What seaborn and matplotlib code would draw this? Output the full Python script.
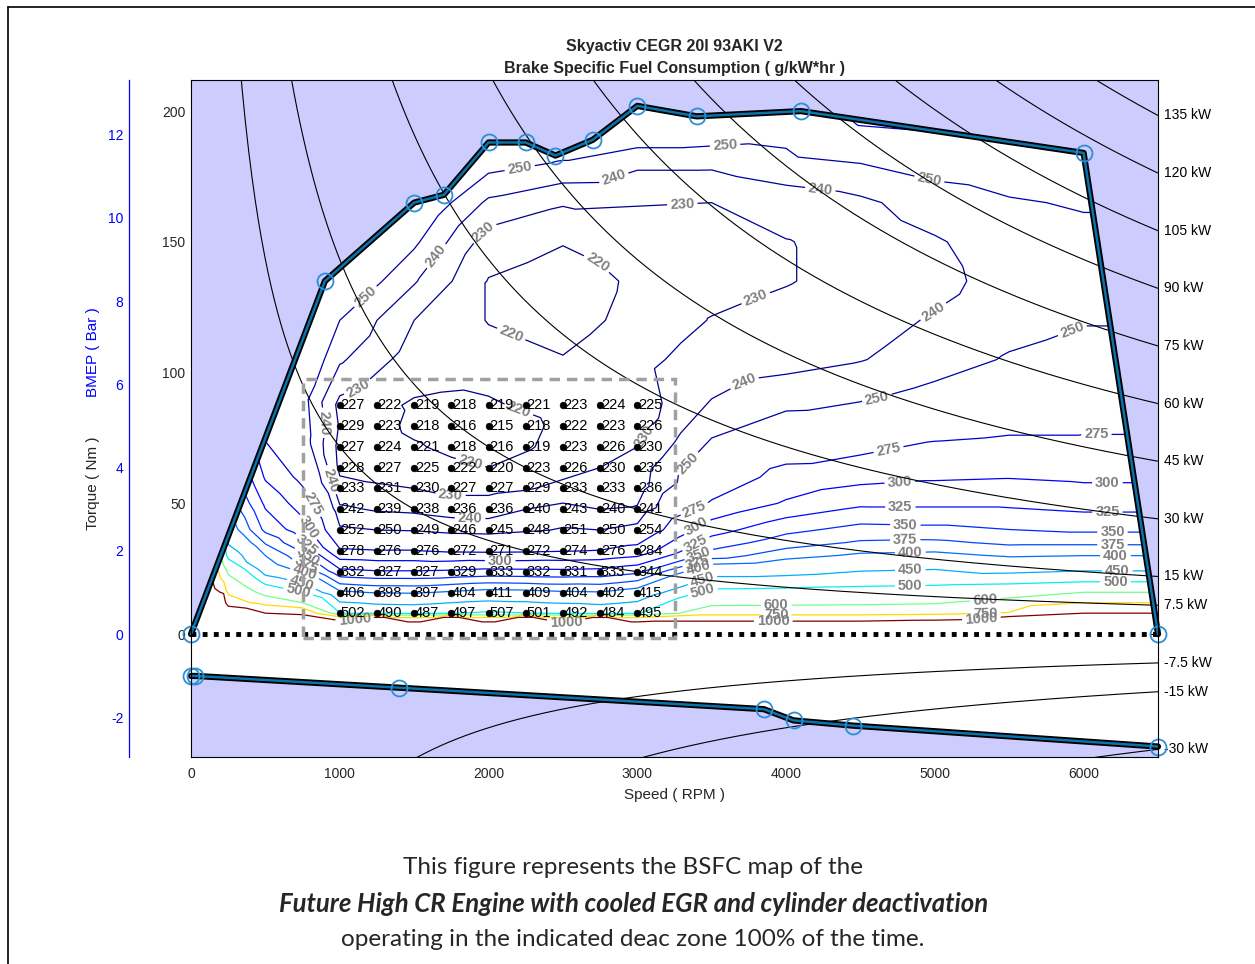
import numpy as np
import matplotlib
matplotlib.use('Agg')
import matplotlib.pyplot as plt
import matplotlib.tri as mtri
from matplotlib.colors import Normalize
from matplotlib.patches import Rectangle
from matplotlib.lines import Line2D
import seaborn as sns

# full load (WOT) torque curve
WOT_RPM = [0, 900, 1500, 1700, 2000, 2250, 2450, 2700, 3000, 3400, 4100, 6000, 6500]
WOT_TQ = [0, 135, 165, 168, 188, 188, 183, 189, 202, 198, 200, 184, 0]

# motoring torque curve
MOTOR_RPM = [0, 30, 1400, 3850, 4050, 4450, 6500]
MOTOR_TQ = [-16, -16, -20.5, -28.7, -33, -35, -43]

# base BSFC map (g/kWh), one list per speed column, ordered like MAP_TQ
# None = replaced by the deac zone measurements
MAP_RPM = [0, 250, 500, 750, 1000, 1500, 2000, 2500, 3000,
           3500, 4000, 4500, 5000, 5500, 6000, 6500]
MAP_TQ = [0, 4, 8, 12, 16, 20, 25, 30, 35, 40, 50, 60, 75, 90,
          105, 120, 135, 150, 165, 180, 195, 210]
N = None
BSFC_BASE = [
    [9000, 6000, 4000, 3000, 2000, 1500, 1200, 1000, 900, 800, 700, 620, 560, 520, 500, 490, 480, 480, 480, 480, 480, 480],
    [5000, 2500, 1300, 850, 720, 650, 560, 480, 445, 420, 390, 370, 350, 340, 335, 330, 330, 330, 330, 330, 330, 330],
    [4000, 2000, 1000, 680, 560, 480, 420, 400, 372, 343, 320, 297, 273, 262, 270, 285, 295, 305, 315, 325, 335, 345],
    [3000, 1600, 900, 600, 500, 445, 390, 358, 327, 311, 288, 268, 256, 254, 262, 275, 285, 295, 305, 315, 325, 335],
    [3000, 1200, N, N, N, N, N, N, N, N, N, N, N, N, 241.5, 250, 262, 275, 285, 295, 305, 315],
    [3000, 1100, N, N, N, N, N, N, N, N, N, N, N, N, 225, 230, 241, 252, 262, 275, 285, 295],
    [3000, 1100, N, N, N, N, N, N, N, N, N, N, N, N, 224, 219.5, 219.5, 225, 238, 254, 265, 275],
    [3000, 1100, N, N, N, N, N, N, N, N, N, N, N, N, 220.5, 216, 215.5, 220.5, 231, 249, 262, 272],
    [3000, 1100, N, N, N, N, N, N, N, N, N, N, N, N, 227, 223, 221.5, 225, 230.5, 242, 262, 272],
    [3000, 1100, 680, 570, 515, 470, 420, 362, 336, 314, 277, 262, 250, 240, 235, 230.5, 226, 225, 230, 242, 260, 272],
    [3000, 1100, 680, 575, 520, 470, 428, 390, 363, 343, 303, 282, 261, 245, 237, 233, 229.5, 229.5, 236, 245, 258, 270],
    [3000, 1100, 680, 580, 525, 480, 443, 405, 378, 358, 320, 292, 262, 249, 239.5, 236, 233, 234, 238, 250, 276, 290],
    [3000, 1150, 700, 590, 530, 485, 448, 408, 380, 356, 320, 297, 273, 254, 245, 241, 237, 239, 245, 254, 280, 295],
    [3000, 1500, 760, 650, 540, 490, 430, 397, 370, 350, 320, 299, 276, 262, 251, 246, 244, 245, 249, 256, 265, 275],
    [3000, 1500, 1000, 750, 600, 500, 440, 400, 370, 345, 315, 296, 276, 265, 256, 249, 246, 247, 251, 256, 265, 275],
    [3000, 1500, 1000, 750, 600, 500, 440, 400, 370, 345, 315, 296, 276, 265, 256, 249, 246, 247, 251, 256, 265, 275],
]

# deac zone measured BSFC
DEAC_RPM = [1000, 1250, 1500, 1750, 2000, 2250, 2500, 2750, 3000]
DEAC_TQ = [87.5, 79.6, 71.6, 63.7, 55.7, 47.7, 39.8, 31.8, 23.9, 15.9, 8.0]
DEAC_BSFC = [
    [227, 222, 219, 218, 219, 221, 223, 224, 225],
    [229, 223, 218, 216, 215, 218, 222, 223, 226],
    [227, 224, 221, 218, 216, 219, 223, 226, 230],
    [228, 227, 225, 222, 220, 223, 226, 230, 235],
    [233, 231, 230, 227, 227, 229, 233, 233, 236],
    [242, 239, 238, 236, 236, 240, 243, 240, 241],
    [252, 250, 249, 246, 245, 248, 251, 250, 254],
    [278, 276, 276, 272, 271, 272, 274, 276, 284],
    [332, 327, 327, 329, 333, 332, 331, 333, 344],
    [406, 398, 397, 404, 411, 409, 404, 402, 415],
    [502, 490, 487, 497, 507, 501, 492, 484, 495],
]
DEAC_BOX_RPM = [750, 3250]
DEAC_BOX_TQ = [-1.5, 97.5]

LEVELS = [220, 230, 240, 250, 275, 300, 325, 350, 375, 400, 450, 500, 600, 750, 1000]
POWER_KW = [7.5, 15, 30, 45, 60, 75, 90, 105, 120, 135, -7.5, -15, -30]
DISPLACEMENT_L = 2.0

# where contour labels sit (rpm, Nm)
LABEL_SPOTS = [
    (2210, 178), (2845, 174), (3302, 165), (3591, 186), (4230, 170), (4963, 174),
    (1964, 154), (1661, 144), (1190, 128), (2757, 145), (2118, 110),
    (3806, 127), (4936, 128), (5945, 113), (3732, 95), (4607, 91),
    (6086, 76), (4694, 69), (3288, 68), (3369, 50),
    (4768, 55), (6160, 58), (4768, 47), (6160, 46), (4801, 40), (6194, 39),
    (4801, 35), (6194, 34), (4835, 31), (6214, 30), (4835, 24.5), (6227, 24),
    (4835, 18), (6214, 20), (3934, 10), (5340, 13), (3934, 7), (5340, 9),
    (3914, 4), (5313, 6),
    (3402, 41), (3389, 35), (3409, 31.4), (3402, 27.5), (3409, 25.6), (3436, 21), (3436, 17),
    (854, 50.5), (834, 41.7), (787, 35), (800, 31), (787, 27.5), (767, 23.7), (746, 19.5), (720, 16),
    (935, 81), (948, 59), (1123, 94), (2165, 80), (1876, 65), (1742, 52), (1876, 45), (2972, 78),
    (2078, 27), (1103, 4.6), (2522, 4.6),
]

W, H = 1255, 964
PURPLE = '#ccccff'
GREY = '#262626'

sns.set_style('white')
plt.rcParams['font.family'] = ['Liberation Sans', 'DejaVu Sans']
plt.rcParams['axes.unicode_minus'] = False

fig = plt.figure(figsize=(W / 100, H / 100), dpi=100)
ax_l, ax_r, ax_t, ax_b = 191, 1158, 80, 757
ax = fig.add_axes([ax_l / W, 1 - ax_b / H, (ax_r - ax_l) / W, (ax_b - ax_t) / H])
ax.set_xlim(0, 6500)
ax.set_ylim(-47.0, 211.9)

# build scattered points: base map + deac zone
base = np.array(BSFC_BASE, dtype=float).T
rr, tt = np.meshgrid(MAP_RPM, MAP_TQ)
keep = ~np.isnan(base)
dr, dt = np.meshgrid(DEAC_RPM, DEAC_TQ)
pts_rpm = np.concatenate([rr[keep], dr.ravel()])
pts_tq = np.concatenate([tt[keep], dt.ravel()])
pts_z = np.concatenate([base[keep], np.array(DEAC_BSFC, dtype=float).ravel()])

# triangulate in screen-like units so the mesh is not skewed
sx = (ax_r - ax_l) / 6500
sy = (ax_b - ax_t) / (211.9 + 47.0)
tri = mtri.Triangulation(pts_rpm * sx, pts_tq * sy)
triang = mtri.Triangulation(pts_rpm, pts_tq, tri.triangles)

cs = ax.tricontour(triang, pts_z, levels=LEVELS, cmap='jet',
                   norm=Normalize(220, 1000), linewidths=0.9, zorder=2)
with plt.rc_context({'font.weight': 'bold'}):
    ax.clabel(cs, manual=LABEL_SPOTS, inline=True, inline_spacing=3,
              fontsize=10.5, fmt='%d', colors='#808080')

# shaded area outside the operating envelope
ax.fill_between(WOT_RPM, WOT_TQ, 260, color=PURPLE, lw=0, zorder=3.5)
ax.fill_between(MOTOR_RPM, MOTOR_TQ, -80, color=PURPLE, lw=0, zorder=3.5)

# constant power lines
rpm_line = np.linspace(20, 6500, 600)
for p in POWER_KW:
    tq_line = p * 60000 / (2 * np.pi * rpm_line)
    sns.lineplot(x=rpm_line, y=tq_line, color='k', lw=0.8, ax=ax,
                 sort=False, estimator=None, zorder=4)
    ax.annotate(f'{p:g} kW', (6500, p * 60000 / (2 * np.pi * 6500)),
                xytext=(4, 0), textcoords='offset points', ha='left',
                va='center', fontsize=10, color='k', annotation_clip=False)

# envelope lines
for xs, ys in [(WOT_RPM, WOT_TQ), (MOTOR_RPM, MOTOR_TQ)]:
    ax.plot(xs, ys, color='k', lw=4.5, zorder=5, clip_on=False)
    ax.plot(xs, ys, color='#0b72aa', lw=1.8, zorder=6, clip_on=False)
    ax.plot(xs, ys, 'o', mfc='none', mec='#2a8fd4', ms=11.5, mew=1.3,
            zorder=7, clip_on=False)

ax.plot([0, 6500], [0, 0], color='k', lw=3.5, ls=(0, (1, 1.3)), zorder=5)

# deac zone
ax.add_patch(Rectangle((DEAC_BOX_RPM[0], DEAC_BOX_TQ[0]),
                       DEAC_BOX_RPM[1] - DEAC_BOX_RPM[0],
                       DEAC_BOX_TQ[1] - DEAC_BOX_TQ[0],
                       fill=False, ec='#a0a0a0', lw=2.5, ls=(0, (3, 2)), zorder=6))
sns.scatterplot(x=dr.ravel(), y=dt.ravel(), color='k', s=24, ax=ax,
                zorder=8, legend=False, edgecolor='k')
for i, tq in enumerate(DEAC_TQ):
    for j, rpm in enumerate(DEAC_RPM):
        ax.annotate(str(DEAC_BSFC[i][j]), (rpm, tq), xytext=(0.5, 0),
                    textcoords='offset points', ha='left', va='center',
                    fontsize=10.5, color='k', zorder=9)

# axes cosmetics
ax.set_xticks(range(0, 7000, 1000))
ax.set_yticks([0, 50, 100, 150, 200])
ax.tick_params(direction='in', length=6, width=0.8, top=True, right=True,
               labelsize=10, labelcolor=GREY, color='k')
ax.tick_params(axis='x', pad=7)
ax.tick_params(axis='y', pad=4)
for s in ax.spines.values():
    s.set_color('k')
    s.set_linewidth(0.8)
    s.set_zorder(10)
ax.set_xlabel('Speed ( RPM )', fontsize=11, color=GREY, labelpad=5)

# BMEP axis
bmep_per_nm = 4 * np.pi / (DISPLACEMENT_L * 1e-3) / 1e5
bax = fig.add_axes([129 / W, 1 - ax_b / H, 1e-4, (ax_b - ax_t) / H])
bax.set_ylim(np.array(ax.get_ylim()) * bmep_per_nm)
for s in ['top', 'right', 'bottom']:
    bax.spines[s].set_visible(False)
bax.spines['left'].set_color('blue')
bax.spines['left'].set_linewidth(0.9)
bax.patch.set_visible(False)
bax.set_xticks([])
bax.set_yticks(range(-2, 13, 2))
bax.tick_params(axis='y', direction='in', length=6, colors='blue',
                labelsize=10, pad=4)

fig.text(93 / W, 1 - 483 / H, 'Torque ( Nm )', rotation=90, ha='center',
         va='center', fontsize=11, color=GREY)
fig.text(93 / W, 1 - 352 / H, 'BMEP ( Bar )', rotation=90, ha='center',
         va='center', fontsize=11, color='blue')

fig.text(674.5 / W, 1 - 46 / H, 'Skyactiv CEGR 20l 93AKI V2', ha='center',
         va='center', fontsize=11.5, fontweight='bold')
fig.text(674.5 / W, 1 - 68 / H, 'Brake Specific Fuel Consumption ( g/kW*hr )',
         ha='center', va='center', fontsize=11.5, fontweight='bold')

# caption below the chart
cap = dict(ha='center', va='center', family=['Lato', 'DejaVu Sans'])
fig.text(633 / W, 1 - 868 / H, 'This figure represents the BSFC map of the',
         fontsize=17.5, **cap)
fig.text(634 / W, 1 - 904 / H,
         'Future High CR Engine with cooled EGR and cylinder deactivation',
         fontsize=18.5, fontweight='bold', fontstyle='italic', **cap)
fig.text(633 / W, 1 - 939 / H,
         'operating in the indicated deac zone 100% of the time.',
         fontsize=17.5, **cap)

# frame of the page
fig.add_artist(Line2D([8 / W, 8 / W], [0, 1 - 7 / H], color='k', lw=1.2,
                      transform=fig.transFigure))
fig.add_artist(Line2D([8 / W, 1], [1 - 7 / H, 1 - 7 / H], color='k', lw=1.2,
                      transform=fig.transFigure))

fig.savefig('out.png', dpi=100)
